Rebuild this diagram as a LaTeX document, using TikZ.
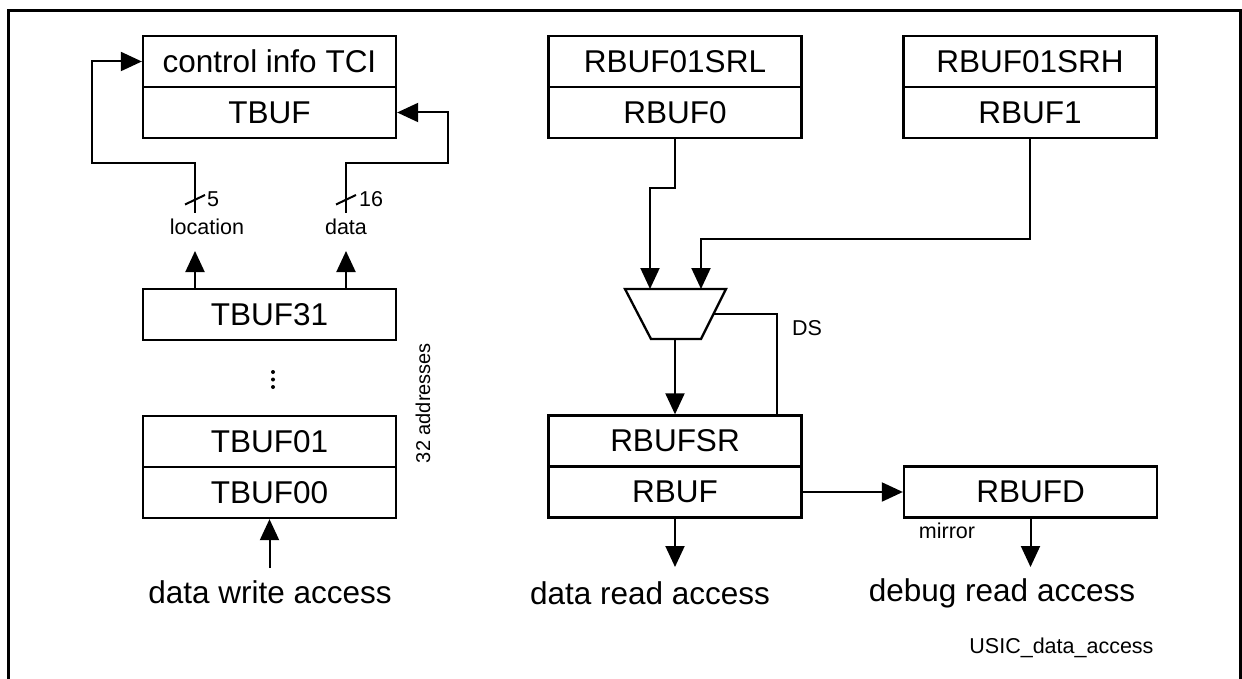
\documentclass[tikz,border=0pt]{standalone}
\usepackage{fontspec}
\setmainfont{Liberation Sans}
\usetikzlibrary{arrows.meta}
\begin{document}
\begin{tikzpicture}[x=1pt,y=-1pt,
  big/.style={font=\fontsize{31.5}{36}\selectfont},
  small/.style={font=\fontsize{21.5}{25}\selectfont},
  cell/.style={draw,line width=2.3pt,minimum width=253pt,minimum height=51pt,inner sep=0pt,big},
  conn/.style={line width=2pt},
  arr/.style={conn,-{Triangle[length=21pt,width=19pt]}},
  dot/.style={fill,circle,inner sep=0pt,minimum size=4pt}
]
\useasboundingbox (0,0) rectangle (1242,679);
% frame
\draw[line width=3pt] (8.5,679) -- (8.5,10.5) -- (1240.5,10.5) -- (1240.5,679);

% left column
\node[cell] (tci) at (269.5,61.5) {control info TCI};
\node[cell] (tbuf) at (269.5,112.5) {TBUF};
\node[cell] (tbuf31) at (269.5,314.5) {TBUF31};
\node[cell] (tbuf01) at (269.5,441.5) {TBUF01};
\node[cell] (tbuf00) at (269.5,492.5) {TBUF00};
\node[dot] (d1) at (273,372) {};
\node[dot] (d2) at (273,379.5) {};
\node[dot] (d3) at (273,387) {};
\node[small,rotate=90,font=\fontsize{20}{24}\selectfont] (addr) at (423,403) {32 addresses};

% location path
\coordinate (locTip) at (195,251);
\coordinate (locTop) at (195,213);
\node[small] (loc) at (207,227) {location};
\draw[arr] (tbuf31.north -| locTip) -- (locTip);
\draw[arr] (locTop) -- (195,163) -- (92,163) |- (tci.west);
\draw[conn] (185,204.5) -- (205,195);
\node[small] (n5) at (213,199) {5};

% data path
\coordinate (datTip) at (346,251);
\coordinate (datTop) at (346,213);
\node[small] (dat) at (346,227) {data};
\draw[arr] (tbuf31.north -| datTip) -- (datTip);
\draw[arr] (datTop) -- (346,163) -- (448,163) |- (tbuf.east);
\draw[conn] (336,204.5) -- (356,195);
\node[small] (n16) at (371,199) {16};

% write access
\coordinate (dwa) at (269.5,568);
\node[big] (dwaText) at (270,592) {data write access};
\draw[arr] (dwa) -- (tbuf00.south);

% right column
\node[cell] (srl) at (675,61.5) {RBUF01SRL};
\node[cell] (rbuf0) at (675,112.5) {RBUF0};
\node[cell] (srh) at (1030,61.5) {RBUF01SRH};
\node[cell] (rbuf1) at (1030,112.5) {RBUF1};

% mux
\coordinate (m1) at (625,289);
\coordinate (m2) at (726,289);
\coordinate (m3) at (701,339);
\coordinate (m4) at (651,339);
\draw[line width=2.3pt,line join=miter] (m1) -- (m2) -- (m3) -- (m4) -- cycle;
\coordinate (muxA) at (650,289);
\coordinate (muxB) at (701,289);
\coordinate (muxOut) at (675,339);
\coordinate (muxDS) at (713.5,314);

\draw[arr] (rbuf0.south) -- (675,188) -| (muxA);
\draw[arr] (rbuf1.south) -- (1030,239) -| (muxB);

\node[cell] (rbufsr) at (675,441) {RBUFSR};
\node[cell] (rbuf) at (675,492) {RBUF};
\node[cell] (rbufd) at (1030.5,492) {RBUFD};

\draw[arr] (muxOut) -- (rbufsr.north);
\coordinate (dsEnd) at (777,415.5);
\draw[conn] (muxDS) -| (dsEnd);
\node[small] (ds) at (807,328) {DS};

\draw[arr] (rbuf.east) -- (rbufd.west);
\node[small] (mir) at (947,531) {mirror};

\coordinate (dra) at (675,567);
\draw[arr] (rbuf.south) -- (dra);
\node[big] (draText) at (650,593) {data read access};

\coordinate (dbg) at (1030.5,567);
\draw[arr] (rbufd.south) -- (dbg);
\node[big] (dbgText) at (1002,593) {debug read access};

\node[small,anchor=east] (usic) at (1157,648) {USIC\_data\_access};
\end{tikzpicture}
\end{document}
